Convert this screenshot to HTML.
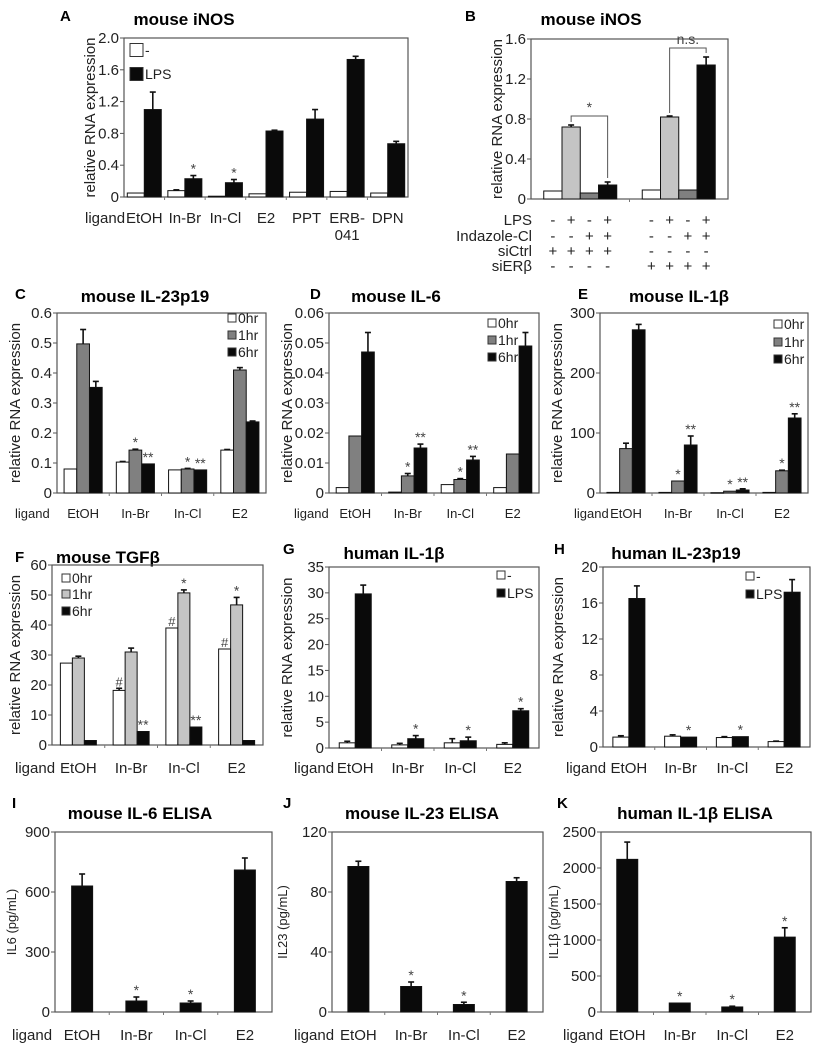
<!DOCTYPE html>
<html><head><meta charset="utf-8">
<style>
html,body{margin:0;padding:0;background:#fff;}
svg{display:block;font-family:"Liberation Sans",Arial,sans-serif;}
</style></head>
<body>
<svg id="fig" width="821" height="1050" viewBox="0 0 821 1050" xmlns="http://www.w3.org/2000/svg">
<rect x="0" y="0" width="821" height="1050" fill="#fff"/>
</svg>
<script>
// ---------- DATA ----------
const cat4=["EtOH","In-Br","In-Cl","E2"];
const aCats=["EtOH","In-Br","In-Cl","E2","PPT","ERB-\n041","DPN"];
const aTicks=[0,0.4,0.8,1.2,1.6,2.0];
const aNone=[0.05,0.08,0.01,0.04,0.06,0.07,0.05];
const aNoneErr=[0,0.01,0,0,0,0,0];
const aLPS=[1.1,0.23,0.18,0.83,0.98,1.73,0.67];
const aLPSErr=[0.22,0.04,0.04,0.01,0.12,0.04,0.03];
const aLPSStar=["","*","*","","","",""];

const bTicks=[0,0.4,0.8,1.2,1.6];
const bS1=[0.08,0.09];
const bS2=[0.72,0.82];
const bS2Err=[0.02,0.01];
const bS3=[0.06,0.09];
const bS4=[0.14,1.34];
const bS4Err=[0.03,0.08];
const bBracketLabels=["*","n.s."];
const bRowLabels=["LPS","Indazole-Cl","siCtrl","siER\u03b2"];
const bRowLPS=["-","+","-","+","-","+","-","+"];
const bRowInd=["-","-","+","+","-","-","+","+"];
const bRowCtrl=["+","+","+","+","-","-","-","-"];
const bRowER=["-","-","-","-","+","+","+","+"];

const cTicks=[0,0.1,0.2,0.3,0.4,0.5,0.6];
const c0=[0.08,0.103,0.077,0.143];
const c0Err=[0,0.002,0,0.002];
const c1=[0.497,0.143,0.08,0.41];
const c1Err=[0.048,0.003,0.002,0.008];
const c1Star=["","*","*",""];
const c6=[0.352,0.097,0.077,0.237];
const c6Err=[0.02,0,0,0.003];
const c6Star=["","**","**",""];

const dTicks=[0,0.01,0.02,0.03,0.04,0.05,0.06];
const d0=[0.0018,0.0003,0.0028,0.0018];
const d1=[0.019,0.0057,0.0045,0.013];
const d1Err=[0,0.0008,0.0003,0];
const d1Star=["","*","*",""];
const d6=[0.047,0.015,0.011,0.049];
const d6Err=[0.0065,0.0013,0.0012,0.0045];
const d6Star=["","**","**",""];

const eTicks=[0,100,200,300];
const e0=[1,1,0.5,1];
const e1=[74,20,3,37];
const e1Err=[9,0,0,1];
const e1Star=["","*","*","*"];
const e6=[272,80,5,125];
const e6Err=[9,15,2,7];
const e6Star=["","**","**","**"];

const fTicks=[0,10,20,30,40,50,60];
const f0=[27.3,18.2,39,32];
const f0Err=[0,0.7,0,0];
const f0Star=["","#","#","#"];
const f1=[29,31,50.7,46.7];
const f1Err=[0.6,1.3,1,2.5];
const f1Star=["","","*","*"];
const f6=[1.5,4.5,6,1.5];
const f6Star=["","**","**",""];

const gTicks=[0,5,10,15,20,25,30,35];
const gNone=[1,0.6,1,0.7];
const gNoneErr=[0.3,0.3,0.8,0.3];
const gLPS=[29.8,1.8,1.4,7.2];
const gLPSErr=[1.7,0.6,0.7,0.4];
const gLPSStar=["","*","*","*"];

const hTicks=[0,4,8,12,16,20];
const hNone=[1.1,1.2,1.05,0.6];
const hNoneErr=[0.15,0.15,0.1,0.05];
const hLPS=[16.5,1.1,1.15,17.2];
const hLPSErr=[1.4,0,0,1.4];
const hLPSStar=["","*","*",""];

const iTicks=[0,300,600,900];
const iVals=[630,55,45,710];
const iErr=[60,20,10,60];
const iStar=["","*","*",""];

const jTicks=[0,40,80,120];
const jVals=[97,17,5,87];
const jErr=[3.5,3,1.5,2.5];
const jStar=["","*","*",""];

const kTicks=[0,500,1000,1500,2000,2500];
const kVals=[2120,125,70,1040];
const kErr=[240,0,10,130];
const kStar=["","*","*","*"];

// ---------- DRAWING ----------
const NS="http://www.w3.org/2000/svg";
const svg=document.getElementById("fig");
function el(parent,tag,attrs){const e=document.createElementNS(NS,tag);for(const k in attrs)e.setAttribute(k,attrs[k]);parent.appendChild(e);return e;}
function txt(parent,x,y,s,attrs){const t=el(parent,"text",Object.assign({x:x,y:y},attrs||{}));t.textContent=s;return t;}

function panel(c){
  const g=el(svg,"g",{});
  
  
  const max=c.ticks[c.ticks.length-1];
  const sy=v=>c.yBot-(v/max)*(c.yBot-c.yTop);
  const n=c.cats.length, gw=(c.x1-c.x0)/n;
  const lt=txt(g,c.letter[1],c.letter[2],c.letter[0],{"font-size":15,"font-weight":"bold"});
  
  
  const tt=txt(g,c.title[1],c.title[2],c.title[0],{"font-size":c.titleFs||17,"font-weight":"bold","text-anchor":"middle"});
  
  
  const box=el(g,"rect",{x:c.x0,y:c.yTop,width:c.x1-c.x0,height:c.yBot-c.yTop,fill:"none",stroke:"#555","stroke-width":1.2});
  
  
  c.ticks.forEach(v=>{
    const y=sy(v);
    el(g,"line",{x1:c.x0-4,x2:c.x0,y1:y,y2:y,stroke:"#555"});
    const lab=(c.fmt?c.fmt(v):String(v));
    const t=txt(g,c.x0-5,y+5,lab,{"font-size":c.tickFs||15,"text-anchor":"end",fill:"#222"});
    
    
  });
  const ymid=(c.yTop+c.yBot)/2;
  const yl=txt(g,c.ylab[1],ymid,c.ylab[0],{"font-size":c.ylabFs||15,"text-anchor":"middle",transform:`rotate(-90 ${c.ylab[1]} ${ymid})`,fill:"#222"});
  
  
  for(let i=1;i<n;i++){const x=c.x0+gw*i;el(g,"line",{x1:x,x2:x,y1:c.yBot,y2:c.yBot+3,stroke:"#777"});}
  const k=c.series.length;
  for(let i=0;i<n;i++){
    const cx=c.x0+gw*(i+0.5);
    const start=cx-k*c.barW/2;
    c.series.forEach((s,j)=>{
      const v=s.vals[i], bx=start+j*c.barW, by=sy(v);
      const r=el(g,"rect",{x:bx,y:by,width:c.barW,height:Math.max(c.yBot-by,0.5),fill:s.color,stroke:"#111","stroke-width":1});
      
      
      let top=by;
      if(s.err&&s.err[i]>0){
        top=sy(v+s.err[i]);
        el(g,"line",{x1:bx+c.barW/2,x2:bx+c.barW/2,y1:by,y2:top,stroke:"#111","stroke-width":1.6});
        el(g,"line",{x1:bx+c.barW/2-3,x2:bx+c.barW/2+3,y1:top,y2:top,stroke:"#111","stroke-width":1.6});
      }
      if(s.star&&s.star[i]){
        const st=txt(g,bx+c.barW/2,top-2,s.star[i],{"font-size":s.star[i]==="#"?13:14,"text-anchor":"middle",fill:"#444"});
        
        
      }
    });
    const parts=c.cats[i].split("\n");
    parts.forEach((p,pi)=>{
      const t=txt(g,cx+(c.catDx||0),c.catY+pi*17,p,{"font-size":c.catFs||15,"text-anchor":"middle",fill:"#222"});
      
      
    });
  }
  const lg=txt(g,c.ligandX,c.catY,"ligand",{"font-size":c.catFs||15,fill:"#222"});
  
  
  if(c.legend){
    c.series.forEach((s,j)=>{
      const L=c.legend, y=L.ys[j];
      const r=el(g,"rect",{x:L.x,y:y-L.size/2,width:L.size,height:L.size,fill:s.color,stroke:"#333","stroke-width":1});
      
      
      const t=txt(g,L.x+L.size+2,y+5,s.label,{"font-size":L.fs||14,fill:"#222"});
      
      
    });
  }
  return {g,sy,gw};
}

const W="#fff",G1="#808080",GL="#c4c4c4",K="#0a0a0a";
const relY="relative RNA expression";

panel({name:"panel-a-mouse-inos",letter:["A",60,21],title:["mouse iNOS",184,25],x0:124,x1:408,yTop:38,yBot:197,
  ticks:aTicks,fmt:v=>v===0?"0":v.toFixed(1),ylab:[relY,95],cats:aCats,catY:223,ligandX:85,barW:17,
  series:[{key:"none",label:"-",vals:aNone,err:aNoneErr,color:W},{key:"lps",label:"LPS",vals:aLPS,err:aLPSErr,color:K,star:aLPSStar}],
  legend:{x:130,ys:[50,74],size:13,fs:14}});

(function(){
  const p=panel({name:"panel-b-mouse-inos-sierb",letter:["B",465,21],title:["mouse iNOS",591,25],x0:531,x1:728,yTop:39,yBot:199,
    ticks:bTicks,fmt:v=>v===0?"0":v.toFixed(1),ylab:[relY,502],cats:["",""],catY:0,ligandX:-100,barW:18.25,
    series:[{key:"s1",vals:bS1,color:W},{key:"s2",vals:bS2,err:bS2Err,color:GL},{key:"s3",vals:bS3,color:G1},{key:"s4",vals:bS4,err:bS4Err,color:K}]});
  const g=p.g, sy=p.sy, gw=p.gw, bw=18.25;
  const colX=[];
  for(let i=0;i<2;i++){const cx=531+gw*(i+0.5);for(let j=0;j<4;j++)colX.push(cx-2*bw+bw*(j+0.5));}
  for(let i=0;i<2;i++){
    const lTop=bS2[i]+bS2Err[i], rTop=bS4[i]+bS4Err[i];
    const lvl=Math.max(lTop,rTop)+0.09;
    const xl=colX[i*4+1], xr=colX[i*4+3];
    const b=el(g,"polyline",{points:`${xl},${sy(lTop+0.03)} ${xl},${sy(lvl)} ${xr},${sy(lvl)} ${xr},${sy(rTop+0.04)}`,fill:"none",stroke:"#555","stroke-width":1});
    
    
    const t=txt(g,(xl+xr)/2,sy(lvl)-4,bBracketLabels[i],{"font-size":14,"text-anchor":"middle",fill:"#444"});
    
    
  }
  const rows=[bRowLPS,bRowInd,bRowCtrl,bRowER], rowY=[225,241,256,271];
  rows.forEach((r,ri)=>{
    const t=txt(g,532,rowY[ri],bRowLabels[ri],{"font-size":15,"text-anchor":"end",fill:"#222"});
    
    
    r.forEach((s,ci)=>{const c=txt(g,colX[ci],rowY[ri],s,{"font-size":15,"text-anchor":"middle",fill:"#222"});
      
      });
  });
})();

const hrLeg=["0hr","1hr","6hr"];
panel({name:"panel-c-il23p19",letter:["C",15,299],title:["mouse IL-23p19",145,302],x0:57,x1:266,yTop:313,yBot:493,
  ticks:cTicks,fmt:v=>v===0?"0":v.toFixed(1),ylab:[relY,20],cats:cat4,catY:518,catFs:13,ligandX:15,barW:12.7,
  series:[{key:"0hr",label:hrLeg[0],vals:c0,err:c0Err,color:W},{key:"1hr",label:hrLeg[1],vals:c1,err:c1Err,color:G1,star:c1Star},{key:"6hr",label:hrLeg[2],vals:c6,err:c6Err,color:K,star:c6Star}],
  legend:{x:228,ys:[318,335,352],size:8,fs:14}});

panel({name:"panel-d-il6",letter:["D",310,299],title:["mouse IL-6",396,302],x0:329,x1:539,yTop:313,yBot:493,
  ticks:dTicks,fmt:v=>v===0?"0":v.toFixed(2),ylab:[relY,292],cats:cat4,catY:518,catFs:13,ligandX:294,barW:12.7,
  series:[{key:"0hr",label:hrLeg[0],vals:d0,color:W},{key:"1hr",label:hrLeg[1],vals:d1,err:d1Err,color:G1,star:d1Star},{key:"6hr",label:hrLeg[2],vals:d6,err:d6Err,color:K,star:d6Star}],
  legend:{x:488,ys:[323,340,357],size:8,fs:14}});

panel({name:"panel-e-il1b",letter:["E",578,299],title:["mouse IL-1\u03b2",679,302],x0:600,x1:808,yTop:313,yBot:493,
  ticks:eTicks,ylab:[relY,562],cats:cat4,catY:518,catFs:13,ligandX:574,barW:12.7,
  series:[{key:"0hr",label:hrLeg[0],vals:e0,color:W},{key:"1hr",label:hrLeg[1],vals:e1,err:e1Err,color:G1,star:e1Star},{key:"6hr",label:hrLeg[2],vals:e6,err:e6Err,color:K,star:e6Star}],
  legend:{x:774,ys:[324,342,359],size:8,fs:14}});

panel({name:"panel-f-tgfb",letter:["F",15,562],title:["mouse TGF\u03b2",108,563],x0:52,x1:263,yTop:565,yBot:745,
  ticks:fTicks,ylab:[relY,20],cats:cat4,catY:773,ligandX:15,barW:12,
  series:[{key:"0hr",label:hrLeg[0],vals:f0,err:f0Err,color:W,star:f0Star},{key:"1hr",label:hrLeg[1],vals:f1,err:f1Err,color:GL,star:f1Star},{key:"6hr",label:hrLeg[2],vals:f6,color:K,star:f6Star}],
  legend:{x:62,ys:[578,594,611],size:8,fs:14}});

const lpsLeg=["-","LPS"];
panel({name:"panel-g-human-il1b",letter:["G",283,554],title:["human IL-1\u03b2",394,559],x0:329,x1:539,yTop:567,yBot:748,
  ticks:gTicks,ylab:[relY,292],cats:cat4,catY:773,ligandX:294,barW:16,
  series:[{key:"none",label:lpsLeg[0],vals:gNone,err:gNoneErr,color:W},{key:"lps",label:lpsLeg[1],vals:gLPS,err:gLPSErr,color:K,star:gLPSStar}],
  legend:{x:497,ys:[575,593],size:8,fs:14}});

panel({name:"panel-h-human-il23p19",letter:["H",554,554],title:["human IL-23p19",676,559],x0:603,x1:810,yTop:567,yBot:747,
  ticks:hTicks,ylab:[relY,563],cats:cat4,catY:773,ligandX:566,barW:16,
  series:[{key:"none",label:lpsLeg[0],vals:hNone,err:hNoneErr,color:W},{key:"lps",label:lpsLeg[1],vals:hLPS,err:hLPSErr,color:K,star:hLPSStar}],
  legend:{x:746,ys:[576,594],size:8,fs:14}});

panel({name:"panel-i-il6-elisa",letter:["I",12,808],title:["mouse IL-6 ELISA",140,819],x0:55,x1:272,yTop:832,yBot:1012,
  ticks:iTicks,ylab:["IL6 (pg/mL)",16],ylabFs:13,cats:cat4,catY:1040,ligandX:12,barW:21,
  series:[{key:"il6",vals:iVals,err:iErr,color:K,star:iStar}]});

panel({name:"panel-j-il23-elisa",letter:["J",283,808],title:["mouse IL-23 ELISA",422,819],x0:332,x1:543,yTop:832,yBot:1012,
  ticks:jTicks,ylab:["IL23 (pg/mL)",287],ylabFs:13,cats:cat4,catY:1040,ligandX:294,barW:21,
  series:[{key:"il23",vals:jVals,err:jErr,color:K,star:jStar}]});

panel({name:"panel-k-il1b-elisa",letter:["K",557,808],title:["human IL-1\u03b2 ELISA",695,819],x0:601,x1:811,yTop:832,yBot:1012,
  ticks:kTicks,ylab:["IL1\u03b2 (pg/mL)",558],ylabFs:13,cats:cat4,catY:1040,ligandX:563,barW:21,
  series:[{key:"il1b",vals:kVals,err:kErr,color:K,star:kStar}]});
</script>
</body></html>
